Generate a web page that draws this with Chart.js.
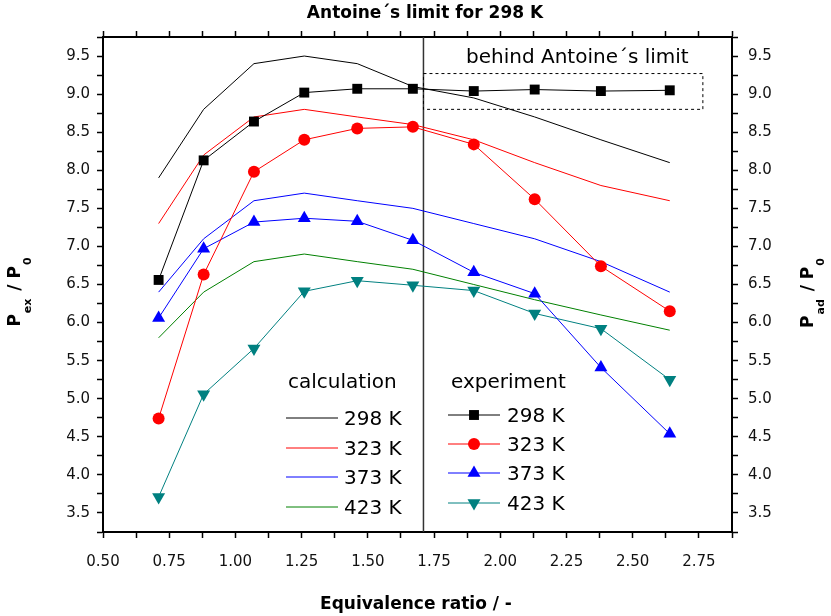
<!DOCTYPE html>
<html>
<head>
<meta charset="utf-8">
<script src="https://cdn.jsdelivr.net/npm/chart.js@4/dist/chart.umd.min.js"></script>
<style>
  html, body { margin: 0; padding: 0; background: #fff; }
  #wrap { width: 831px; height: 616px; position: relative; }
</style>
</head>
<body>
<div id="wrap"><canvas id="chart"></canvas></div>
<script>
// equivalence ratio of the measured / calculated mixtures
var phi = [0.71, 0.88, 1.07, 1.26, 1.46, 1.67, 1.90, 2.13, 2.38, 2.64];

// calculation (P_ad / P_0)
var calc298 = [7.9, 8.8, 9.4, 9.5, 9.4, 9.1, 8.95, 8.7, 8.4, 8.1];
var calc323 = [7.3, 8.2, 8.7, 8.8, 8.7, 8.6, 8.4, 8.1, 7.8, 7.6];
var calc373 = [6.4, 7.1, 7.6, 7.7, 7.6, 7.5, 7.3, 7.1, 6.8, 6.4];
var calc423 = [5.8, 6.4, 6.8, 6.9, 6.8, 6.7, 6.5, 6.3, 6.1, 5.9];

// experiment (P_ex / P_0)
var exp298 = [6.56, 8.13, 8.64, 9.02, 9.07, 9.07, 9.04, 9.06, 9.04, 9.05];
var exp323 = [4.74, 6.63, 7.98, 8.40, 8.55, 8.57, 8.34, 7.62, 6.74, 6.15];
var exp373 = [6.06, 6.97, 7.32, 7.37, 7.33, 7.08, 6.66, 6.38, 5.41, 4.54];
var exp423 = [3.71, 5.06, 5.66, 6.41, 6.55, 6.49, 6.42, 6.12, 5.92, 5.25];

var tempLabels = ['298 K', '323 K', '373 K', '423 K'];

// Antoine's limit and the box around the points behind it
var antoineLimit = 1.71;
var boxX = [1.71, 2.765];
var boxY = [8.80, 9.27];

var FONT = "'DejaVu Sans', sans-serif";
var colors = ['#000000', '#ff0000', '#0000ff', '#008000'];
var expColors = ['#000000', '#ff0000', '#0000ff', '#008080'];
var markers = [
  { style: 'rect', radius: 7, rotation: 0 },
  { style: 'circle', radius: 6, rotation: 0 },
  { style: 'triangle', radius: 7.5, rotation: 0 },
  { style: 'triangle', radius: 7.5, rotation: 180 }
];

function pts(ys) {
  return phi.map(function (x, i) { return { x: x, y: ys[i] }; });
}

var expData = [exp298, exp323, exp373, exp423];
var calcData = [calc298, calc323, calc373, calc423];

var datasets = [];
// experiment first so it is drawn on top
expData.forEach(function (ys, i) {
  datasets.push({
    label: 'exp ' + tempLabels[i],
    data: pts(ys),
    showLine: true,
    borderColor: expColors[i],
    backgroundColor: expColors[i],
    borderWidth: 1,
    pointStyle: markers[i].style,
    pointRadius: markers[i].radius,
    pointRotation: markers[i].rotation,
    pointBorderWidth: 0,
    pointBackgroundColor: expColors[i]
  });
});
calcData.forEach(function (ys, i) {
  datasets.push({
    label: 'calc ' + tempLabels[i],
    data: pts(ys),
    showLine: true,
    borderColor: colors[i],
    borderWidth: 1,
    pointRadius: 0
  });
});

function gridOpts() {
  return { drawOnChartArea: false, tickLength: 6, tickColor: '#000', tickWidth: 1.5 };
}
function borderOpts() {
  return { color: '#000', width: 2 };
}
function xLabel(v) {
  var q = v * 4;
  return Math.abs(q - Math.round(q)) < 1e-6 ? v.toFixed(2) : '';
}
function yLabel(v) {
  var q = v * 2;
  return Math.abs(q - Math.round(q)) < 1e-6 ? v.toFixed(1) : '';
}

// extra drawing: limit line, dashed box, legends and titles
var decor = {
  id: 'decor',
  beforeDatasetsDraw: function (chart) {
    var ctx = chart.ctx, xs = chart.scales.x, ys = chart.scales.y, a = chart.chartArea;
    ctx.save();
    ctx.strokeStyle = '#333';
    ctx.lineWidth = 1.5;
    var lx = xs.getPixelForValue(antoineLimit);
    ctx.beginPath();
    ctx.moveTo(lx, a.top);
    ctx.lineTo(lx, a.bottom);
    ctx.stroke();

    ctx.strokeStyle = '#000';
    ctx.lineWidth = 1;
    ctx.setLineDash([3, 3]);
    var x0 = xs.getPixelForValue(boxX[0]), x1 = xs.getPixelForValue(boxX[1]);
    var y0 = ys.getPixelForValue(boxY[1]), y1 = ys.getPixelForValue(boxY[0]);
    ctx.strokeRect(x0, y0, x1 - x0, y1 - y0);
    ctx.restore();
  },
  afterDraw: function (chart) {
    var ctx = chart.ctx;
    ctx.save();
    ctx.fillStyle = '#000';
    ctx.textBaseline = 'middle';

    ctx.font = 'bold 17px ' + FONT;
    ctx.textAlign = 'center';
    ctx.fillText('Antoine\u00b4s limit for 298 K', 425, 14);
    ctx.fillText('Equivalence ratio / -', 416, 605);

    ctx.textAlign = 'left';
    ctx.font = '20px ' + FONT;
    ctx.fillText('behind Antoine\u00b4s limit', 466, 58);

    // calculation legend
    ctx.fillText('calculation', 288, 383);
    var calcRows = [418, 448, 477, 507];
    calcRows.forEach(function (y, i) {
      ctx.strokeStyle = colors[i];
      ctx.lineWidth = 1;
      ctx.beginPath();
      ctx.moveTo(286, y);
      ctx.lineTo(338, y);
      ctx.stroke();
      ctx.fillText(tempLabels[i], 344, y + 2);
    });

    // experiment legend
    ctx.fillText('experiment', 451, 383);
    var expRows = [415, 444, 473, 503];
    expRows.forEach(function (y, i) {
      ctx.strokeStyle = expColors[i];
      ctx.lineWidth = 1;
      ctx.beginPath();
      ctx.moveTo(448, y);
      ctx.lineTo(500, y);
      ctx.stroke();
      ctx.fillStyle = expColors[i];
      Chart.helpers.drawPoint(ctx, {
        pointStyle: markers[i].style,
        radius: markers[i].radius,
        rotation: markers[i].rotation,
        borderWidth: 0
      }, 474, y);
      ctx.fillStyle = '#000';
      ctx.fillText(tempLabels[i], 507, y + 2);
    });

    // rotated axis titles with subscripts
    function sideTitle(x, yc, sub) {
      ctx.save();
      ctx.translate(x, yc);
      ctx.rotate(-Math.PI / 2);
      ctx.textBaseline = 'alphabetic';
      ctx.textAlign = 'left';
      var big = 'bold 17px ' + FONT, small = 'bold 11px ' + FONT;
      var parts = [['P', big, 0], [sub, small, 11], [' / P', big, 0], ['0', small, 11]];
      var total = 0;
      parts.forEach(function (p) { ctx.font = p[1]; total += ctx.measureText(p[0]).width + (p[2] ? 3 : 0); });
      var cx = -total / 2;
      parts.forEach(function (p) {
        ctx.font = p[1];
        ctx.fillText(p[0], cx + (p[2] ? 1 : 0), p[2]);
        cx += ctx.measureText(p[0]).width + (p[2] ? 3 : 0);
      });
      ctx.restore();
    }
    sideTitle(20, 291, 'ex');
    sideTitle(813, 292, 'ad');
    ctx.restore();
  }
};

var tickFont = { family: FONT, size: 15 };

new Chart(document.getElementById('chart'), {
  type: 'scatter',
  data: { datasets: datasets },
  options: {
    responsive: true,
    maintainAspectRatio: false,
    animation: false,
    layout: { padding: 0 },
    plugins: { legend: { display: false }, tooltip: { enabled: false } },
    scales: {
      x: {
        type: 'linear', position: 'bottom', min: 0.5, max: 2.875,
        afterFit: function (s) { s.height = 84; },
        ticks: { stepSize: 0.125, autoSkip: false, includeBounds: false, maxRotation: 0,
                 callback: xLabel, font: tickFont, color: '#111', padding: 15 },
        grid: gridOpts(), border: borderOpts()
      },
      x2: {
        type: 'linear', position: 'top', min: 0.5, max: 2.875,
        afterFit: function (s) { s.height = 37; },
        ticks: { display: false, stepSize: 0.125, autoSkip: false, includeBounds: false },
        grid: gridOpts(), border: borderOpts()
      },
      y: {
        type: 'linear', position: 'left', min: 3.25, max: 9.75,
        afterFit: function (s) { s.width = 103; },
        ticks: { stepSize: 0.25, autoSkip: false, includeBounds: false,
                 callback: yLabel, font: tickFont, color: '#111', padding: 7 },
        grid: gridOpts(), border: borderOpts()
      },
      y2: {
        type: 'linear', position: 'right', min: 3.25, max: 9.75,
        afterFit: function (s) { s.width = 99; },
        ticks: { stepSize: 0.25, autoSkip: false, includeBounds: false,
                 callback: yLabel, font: tickFont, color: '#111', padding: 10 },
        grid: gridOpts(), border: borderOpts()
      }
    }
  },
  plugins: [decor]
});
</script>
</body>
</html>
